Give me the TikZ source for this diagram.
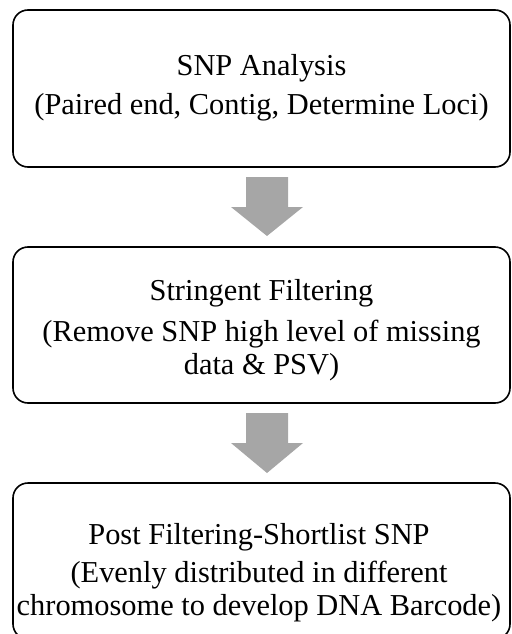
\documentclass[tikz,border=0pt]{standalone}
\usepackage{fontspec}
\setmainfont{Liberation Serif}
\begin{document}
\begin{tikzpicture}[x=1pt,y=-1pt,
  stagebox/.style={draw=black,line width=1.6pt,rounded corners=15pt,minimum width=497pt,inner sep=0pt},
  stagetext/.style={align=center,inner sep=0pt,font=\fontsize{30.4}{33}\selectfont},
  blockarrow/.style={fill=black!35,draw=none}]
\useasboundingbox (0,0) rectangle (511,634);
\node[stagebox,minimum height=157pt] (b1) at (261.5,88.5) {};
\node[stagebox,minimum height=156pt] (b2) at (261.5,325) {};
\node[stagebox,minimum height=156pt] (b3) at (261.5,561) {};
\node[stagetext] (t1) at (261.5,88) {SNP Analysis\\[6pt](Paired end, Contig, Determine Loci)};
\node[stagetext] (t2) at (261.5,330) {Stringent Filtering\\[8pt](Remove SNP high level of missing\\data \& PSV)};
\node[stagetext] (t3) at (259,573) {Post Filtering-Shortlist SNP\\[5pt](Evenly distributed in different\\chromosome to develop DNA Barcode)};
\coordinate (a1) at (267,177);
\coordinate (a2) at (267,413);
\fill[blockarrow] (a1) ++(-21,0) -- ++(42,0) -- ++(0,30) -- ++(15,0) -- ++(-36,29) -- ++(-36,-29) -- ++(15,0) -- cycle;
\fill[blockarrow] (a2) ++(-21,0) -- ++(42,0) -- ++(0,30) -- ++(15,0) -- ++(-36,30) -- ++(-36,-30) -- ++(15,0) -- cycle;
\end{tikzpicture}
\end{document}
